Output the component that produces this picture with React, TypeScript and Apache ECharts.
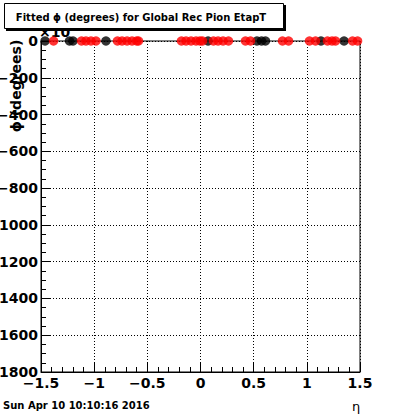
import React, { useEffect, useRef } from "react";
import * as echarts from "echarts";

// eta positions and fitted phi values (scaled units) for the two marker sets
const etaBlack = [-1.462, -1.232, -1.199, -0.889, 0.071, 0.531, 0.574, 0.611, 1.133, 1.35];
const phiBlack = [0, 0, 0, 0, 0, 0, 0, 0, 0, 0];
const etaRed = [
  -1.382, -1.119, -1.077, -1.03, -0.983, -0.781, -0.738, -0.691, -0.644, -0.6, -0.583,
  -0.179, -0.136, -0.089, -0.042, -0.005, 0.019, 0.122, 0.165, 0.212, 0.263, 0.423, 0.47,
  0.771, 0.828, 1.025, 1.082, 1.194, 1.237, 1.27, 1.43, 1.477,
];
const phiRed = [
  0, 0, 0, 0, 0, 0, 0, 0, 0, 0, 0,
  0, 0, 0, 0, 0, 0, 0, 0, 0, 0, 0, 0,
  0, 0, 0, 0, 0, 0, 0, 0, 0,
];
const yTicks = { min: -1800, max: 0, interval: 200 };
const xTicks = { min: -1.5, max: 1.5, interval: 0.5 };
const titleText = "Fitted \u03d5 (degrees) for Global Rec Pion EtapT";
const yTitle = "\u03d5 (degrees)";
const xTitle = "\u03b7";
const dateText = "Sun Apr 10 10:10:16 2016";
const exponentText = "\u00d710";

const fmt = (v: number) => (v < 0 ? "\u2212" + String(Math.abs(v)) : String(v));

export default function App() {
  const ref = useRef<HTMLDivElement>(null);
  useEffect(() => {
    if (!ref.current) return;
    const chart = echarts.init(ref.current, null, { renderer: "svg" });
    const font = "DejaVu Sans";
    const labelStyle = {
      color: "#000",
      fontFamily: font,
      fontWeight: "bold" as const,
      fontSize: 14,
    };
    chart.setOption({
      animation: false,
      backgroundColor: "#fff",
      grid: {
        left: 41,
        right: 40,
        top: 41,
        bottom: 42,
        containLabel: false,
        outerBoundsMode: "none",
        show: true,
        borderColor: "#000",
        borderWidth: 1,
        backgroundColor: "transparent",
      },
      xAxis: {
        type: "value",
        min: xTicks.min,
        max: xTicks.max,
        interval: xTicks.interval,
        axisLine: { show: true, onZero: false, lineStyle: { color: "#000", width: 1 } },
        axisTick: { show: true, inside: true, length: 9, lineStyle: { color: "#000" } },
        minorTick: { show: true, splitNumber: 5, length: 5, lineStyle: { color: "#000" } },
        splitLine: { show: true, lineStyle: { color: "#000", type: [1, 2], width: 1 } },
        axisLabel: { ...labelStyle, margin: 4, formatter: fmt, hideOverlap: false },
      },
      yAxis: {
        type: "value",
        min: yTicks.min,
        max: yTicks.max,
        interval: yTicks.interval,
        axisLine: { show: true, onZero: false, lineStyle: { color: "#000", width: 1 } },
        axisTick: { show: true, inside: true, length: 9, lineStyle: { color: "#000" } },
        minorTick: { show: true, splitNumber: 4, length: 5, lineStyle: { color: "#000" } },
        splitLine: { show: true, lineStyle: { color: "#000", type: [1, 2], width: 1 } },
        axisLabel: { ...labelStyle, margin: 3, formatter: fmt, hideOverlap: false },
      },
      series: [
        {
          type: "scatter",
          data: etaBlack.map((e, i) => [e, phiBlack[i]]),
          symbol: "circle",
          symbolSize: 9.5,
          itemStyle: { color: "#000" },
          clip: false,
          z: 3,
        },
        {
          type: "scatter",
          data: etaRed.map((e, i) => [e, phiRed[i]]),
          symbol: "circle",
          symbolSize: 9.5,
          itemStyle: { color: "#ff0000" },
          clip: false,
          z: 4,
        },
      ],
      graphic: [
        {
          type: "text",
          x: 16,
          y: 86,
          rotation: Math.PI / 2,
          z: -10,
          style: {
            text: yTitle,
            fill: "#000",
            font: `bold 14px "${font}"`,
            align: "center",
            verticalAlign: "middle",
          },
        },
        {
          type: "text",
          x: 39,
          y: 32,
          z: 1,
          style: {
            text: exponentText,
            fill: "#000",
            font: `bold 14px "${font}"`,
            align: "left",
            verticalAlign: "middle",
          },
        },
        {
          type: "rect",
          z: 20,
          shape: { x: 6, y: 5, width: 280, height: 26 },
          style: { fill: "#000" },
        },
        {
          type: "rect",
          z: 21,
          shape: { x: 4.5, y: 3.5, width: 279, height: 25 },
          style: { fill: "#fff", stroke: "#000", lineWidth: 1 },
        },
        {
          type: "text",
          x: 141,
          y: 17,
          z: 22,
          style: {
            text: titleText,
            fill: "#000",
            font: `bold 10px "${font}"`,
            align: "center",
            verticalAlign: "middle",
          },
        },
        {
          type: "text",
          x: 3,
          y: 405,
          z: 5,
          style: {
            text: dateText,
            fill: "#000",
            font: `bold 10px "${font}"`,
            align: "left",
            verticalAlign: "middle",
          },
        },
        {
          type: "text",
          x: 356,
          y: 406,
          z: 5,
          style: {
            text: xTitle,
            fill: "#000",
            font: `13px "${font}"`,
            align: "center",
            verticalAlign: "middle",
          },
        },
      ],
    });
    return () => chart.dispose();
  }, []);
  return (
    <div
      ref={ref}
      style={{ position: "fixed", left: 0, top: 0, width: 400, height: 414, background: "#fff" }}
    />
  );
}
